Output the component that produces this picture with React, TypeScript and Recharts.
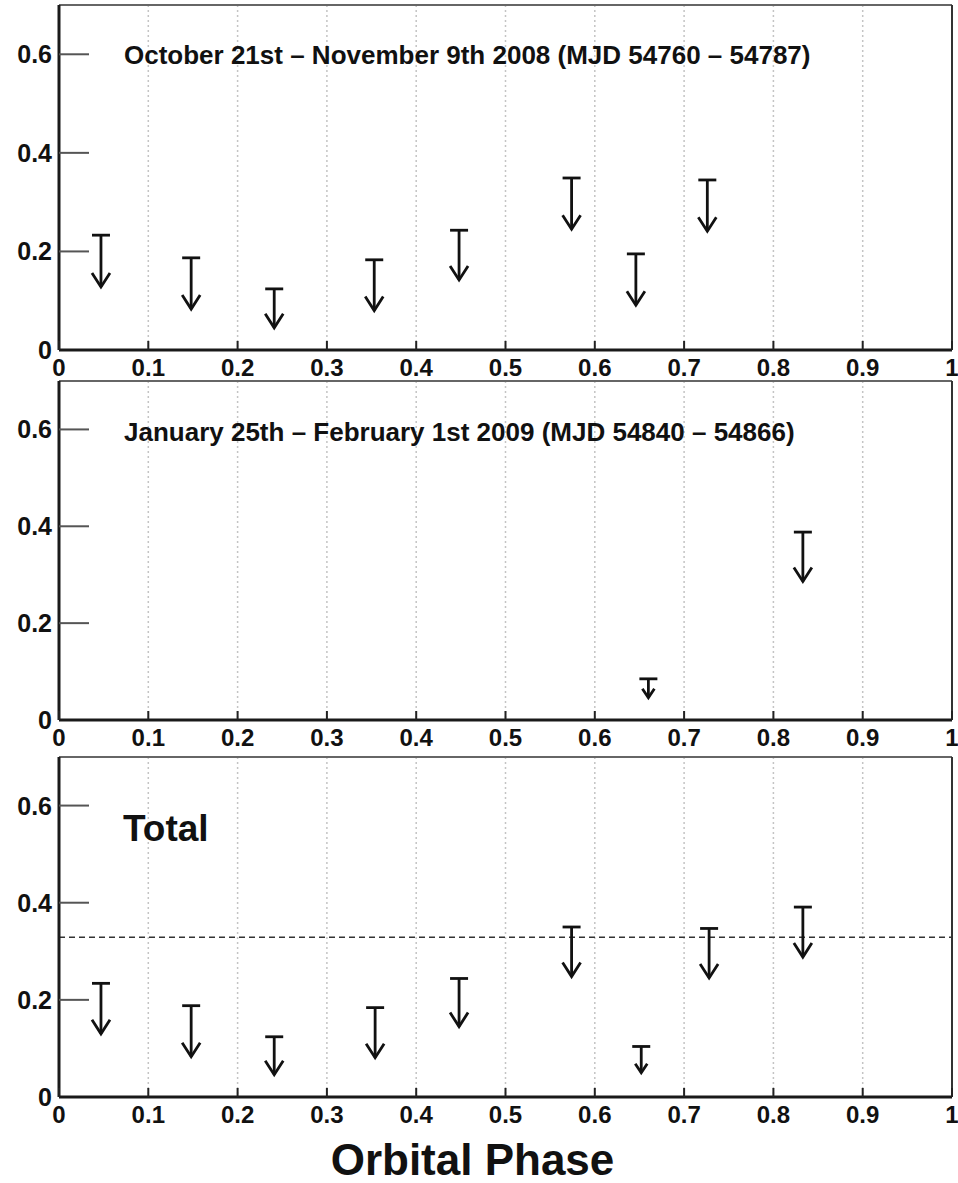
import React from "react"
import { ComposedChart, Scatter, ErrorBar, XAxis, YAxis, CartesianGrid, ReferenceLine } from "recharts"

// Oct 21 - Nov 9 2008
const phaseOct = [0.047, 0.148, 0.241, 0.353, 0.448, 0.574, 0.646, 0.726]
const limitOct = [0.233, 0.187, 0.124, 0.183, 0.243, 0.349, 0.195, 0.345]
const arrowEndOct = [0.128, 0.083, 0.045, 0.080, 0.142, 0.245, 0.091, 0.241]

// Jan 25 - Feb 1 2009
const phaseJan = [0.66, 0.833]
const limitJan = [0.085, 0.388]
const arrowEndJan = [0.046, 0.286]

// combined
const phaseTotal = [0.047, 0.148, 0.241, 0.354, 0.448, 0.574, 0.652, 0.728, 0.833]
const limitTotal = [0.234, 0.188, 0.124, 0.184, 0.244, 0.35, 0.104, 0.347, 0.391]
const arrowEndTotal = [0.13, 0.083, 0.046, 0.081, 0.145, 0.248, 0.05, 0.245, 0.288]
const totalLevel = 0.329

const xTicks = [0, 0.1, 0.2, 0.3, 0.4, 0.5, 0.6, 0.7, 0.8, 0.9, 1]
const yTicks = [0, 0.2, 0.4, 0.6]

const FONT = '"Liberation Sans", Arial, Helvetica, sans-serif'

interface Row {
  x: number
  y: number
  end: number
  err: [number, number]
  short: boolean
}

function buildRows(phase: number[], limit: number[], end: number[]): Row[] {
  return phase.map((p, i) => ({
    x: p,
    y: limit[i],
    end: end[i],
    err: [limit[i] - end[i], 0],
    short: limit[i] - end[i] < 0.06,
  }))
}

const fmtX = (v: number) => (v === 0 ? "0" : v === 1 ? "1" : v.toFixed(1))
const fmtY = (v: number) => (v === 0 ? "0" : v.toFixed(1))

const XTick = (props: any) => {
  const { x, y, payload } = props
  return (
    <g>
      <line x1={x} x2={x} y1={y} y2={y - 9} stroke="#222" strokeWidth={2} />
      <text x={x} y={y + 26} textAnchor="middle" fontFamily={FONT} fontWeight="bold" fontSize={24} fill="#111">
        {fmtX(payload.value)}
      </text>
    </g>
  )
}

const YTick = (props: any) => {
  const { x, y, payload } = props
  return (
    <g>
      {payload.value > 0 && <line x1={x} x2={x + 30} y1={y} y2={y} stroke="#555" strokeWidth={2} />}
      <text x={x - 7} y={y + 9} textAnchor="end" fontFamily={FONT} fontWeight="bold" fontSize={25} fill="#111">
        {fmtY(payload.value)}
      </text>
    </g>
  )
}

const Cap = (props: any) => {
  const { cx, cy } = props
  return <line x1={cx - 9} x2={cx + 9} y1={cy} y2={cy} stroke="#111" strokeWidth={2.8} />
}

const Head = (props: any) => {
  const { cx, cy, payload } = props
  const w = payload.short ? 6 : 9
  const h = payload.short ? 9 : 14
  return (
    <path
      d={`M${cx - w},${cy - h} L${cx},${cy} L${cx + w},${cy - h}`}
      fill="none"
      stroke="#111"
      strokeWidth={2.8}
    />
  )
}

interface PanelProps {
  top: number
  height: number
  rows: Row[]
  level?: number
}

function Panel({ top, height, rows, level }: PanelProps) {
  return (
    <div style={{ position: "absolute", left: 0, top }}>
      <ComposedChart width={958} height={height} margin={{ top: 0, right: 0, bottom: 0, left: 0 }}>
        <CartesianGrid
          xAxisId="b"
          yAxisId="l"
          horizontal={false}
          stroke="#c4c4c4"
          strokeDasharray="2 3"
          strokeWidth={1.5}
        />
        <XAxis
          xAxisId="b"
          type="number"
          dataKey="x"
          domain={[0, 1]}
          ticks={xTicks}
          interval={0}
          height={30}
          tickSize={0}
          tickMargin={0}
          tickLine={false}
          axisLine={{ stroke: "#1a1a1a", strokeWidth: 3 }}
          tick={XTick}
        />
        <XAxis
          xAxisId="t"
          orientation="top"
          type="number"
          domain={[0, 1]}
          height={5}
          tick={false}
          tickLine={false}
          axisLine={{ stroke: "#666", strokeWidth: 2 }}
        />
        <YAxis
          yAxisId="l"
          type="number"
          domain={[0, 0.7]}
          ticks={yTicks}
          interval={0}
          width={59}
          tickSize={0}
          tickMargin={0}
          tickLine={false}
          axisLine={{ stroke: "#1a1a1a", strokeWidth: 3 }}
          tick={YTick}
        />
        <YAxis
          yAxisId="r"
          orientation="right"
          type="number"
          domain={[0, 0.7]}
          width={6}
          tick={false}
          tickLine={false}
          axisLine={{ stroke: "#333", strokeWidth: 2 }}
        />
        {level !== undefined && (
          <ReferenceLine
            xAxisId="b"
            yAxisId="l"
            y={level}
            stroke="#333"
            strokeWidth={1.5}
            strokeDasharray="6 4"
          />
        )}
        <Scatter
          xAxisId="b"
          yAxisId="l"
          data={rows}
          dataKey="y"
          shape={Cap}
          isAnimationActive={false}
        >
          <ErrorBar dataKey="err" direction="y" width={0} stroke="#111" strokeWidth={2.8} isAnimationActive={false} />
        </Scatter>
        <Scatter
          xAxisId="b"
          yAxisId="l"
          data={rows}
          dataKey="end"
          shape={Head}
          isAnimationActive={false}
        />
      </ComposedChart>
    </div>
  )
}

const titleStyle: React.CSSProperties = {
  position: "absolute",
  fontFamily: FONT,
  fontWeight: "bold",
  lineHeight: 1,
  color: "#111",
  whiteSpace: "nowrap",
}

export default function App() {
  const rowsOct = buildRows(phaseOct, limitOct, arrowEndOct)
  const rowsJan = buildRows(phaseJan, limitJan, arrowEndJan)
  const rowsTotal = buildRows(phaseTotal, limitTotal, arrowEndTotal)

  return (
    <div style={{ position: "absolute", left: 0, top: 0, width: 958, height: 1183, background: "#fff" }}>
      <Panel top={0} height={380} rows={rowsOct} />
      <Panel top={376} height={374} rows={rowsJan} />
      <Panel top={752} height={375} rows={rowsTotal} level={totalLevel} />

      <div style={{ ...titleStyle, left: 124, top: 42, fontSize: 26 }}>
        October 21st – November 9th 2008 (MJD 54760 – 54787)
      </div>
      <div style={{ ...titleStyle, left: 124, top: 419, fontSize: 26 }}>
        January 25th – February 1st 2009 (MJD 54840 – 54866)
      </div>
      <div style={{ ...titleStyle, left: 123, top: 810, fontSize: 37 }}>Total</div>
      <div style={{ ...titleStyle, left: 0, width: 945, textAlign: "center", top: 1138, fontSize: 44 }}>
        Orbital Phase
      </div>
    </div>
  )
}
